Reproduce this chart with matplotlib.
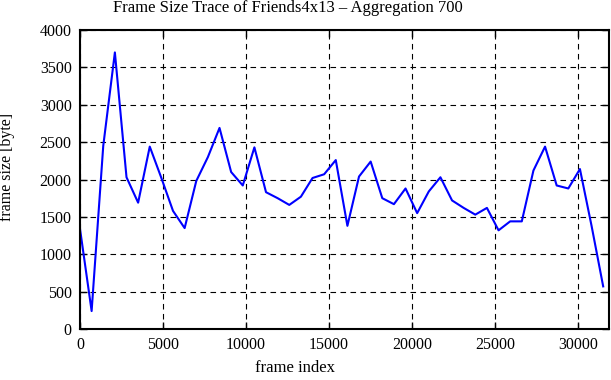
import matplotlib
matplotlib.use("Agg")
import matplotlib.pyplot as plt

frame_index = list(range(0, 31501, 700))
frame_size = [1340, 240, 2450, 3700, 2030, 1690, 2440, 2020, 1580, 1350,
              1980, 2300, 2690, 2100, 1920, 2430, 1830, 1750, 1660, 1770,
              2020, 2070, 2260, 1380, 2040, 2240, 1750, 1670, 1880, 1550,
              1840, 2030, 1720, 1620, 1530, 1620, 1320, 1440, 1440, 2120,
              2440, 1920, 1880, 2140, 1380, 570]
xticks = [0, 5000, 10000, 15000, 20000, 25000, 30000]
yticks = [0, 500, 1000, 1500, 2000, 2500, 3000, 3500, 4000]

plt.rcParams['font.family'] = ['Liberation Serif', 'DejaVu Serif']
plt.rcParams['font.size'] = 11.5

W, H = 611, 380
fig = plt.figure(figsize=(W/100, H/100), dpi=100)
ax = fig.add_axes([80/W, 1-329/H, (609-80)/W, (329-30)/H])
ax.plot(frame_index, frame_size, color='#0000ff', linewidth=1.5)
ax.set_xlim(0, 31850)
ax.set_ylim(0, 4000)
ax.set_xticks(xticks)
ax.set_yticks(yticks)
ax.grid(True, color='black', linestyle=(0, (5, 4)), linewidth=0.8)
ax.tick_params(direction='in', top=True, right=True, length=5, width=1, pad=6)
for s in ax.spines.values():
    s.set_linewidth(1.5)
fig.text(287.5/W, 1-12.5/H, 'Frame Size Trace of Friends4x13 \u2013 Aggregation 700',
         fontsize=12, ha='center', va='baseline')
fig.text(295/W, 1-372/H, 'frame index', fontsize=12, ha='center', va='baseline')
fig.text(11/W, 1-167/H, 'frame size [byte]', fontsize=11.5, ha='center', va='baseline',
         rotation=90, rotation_mode='anchor')
fig.savefig('out.png', dpi=100)
